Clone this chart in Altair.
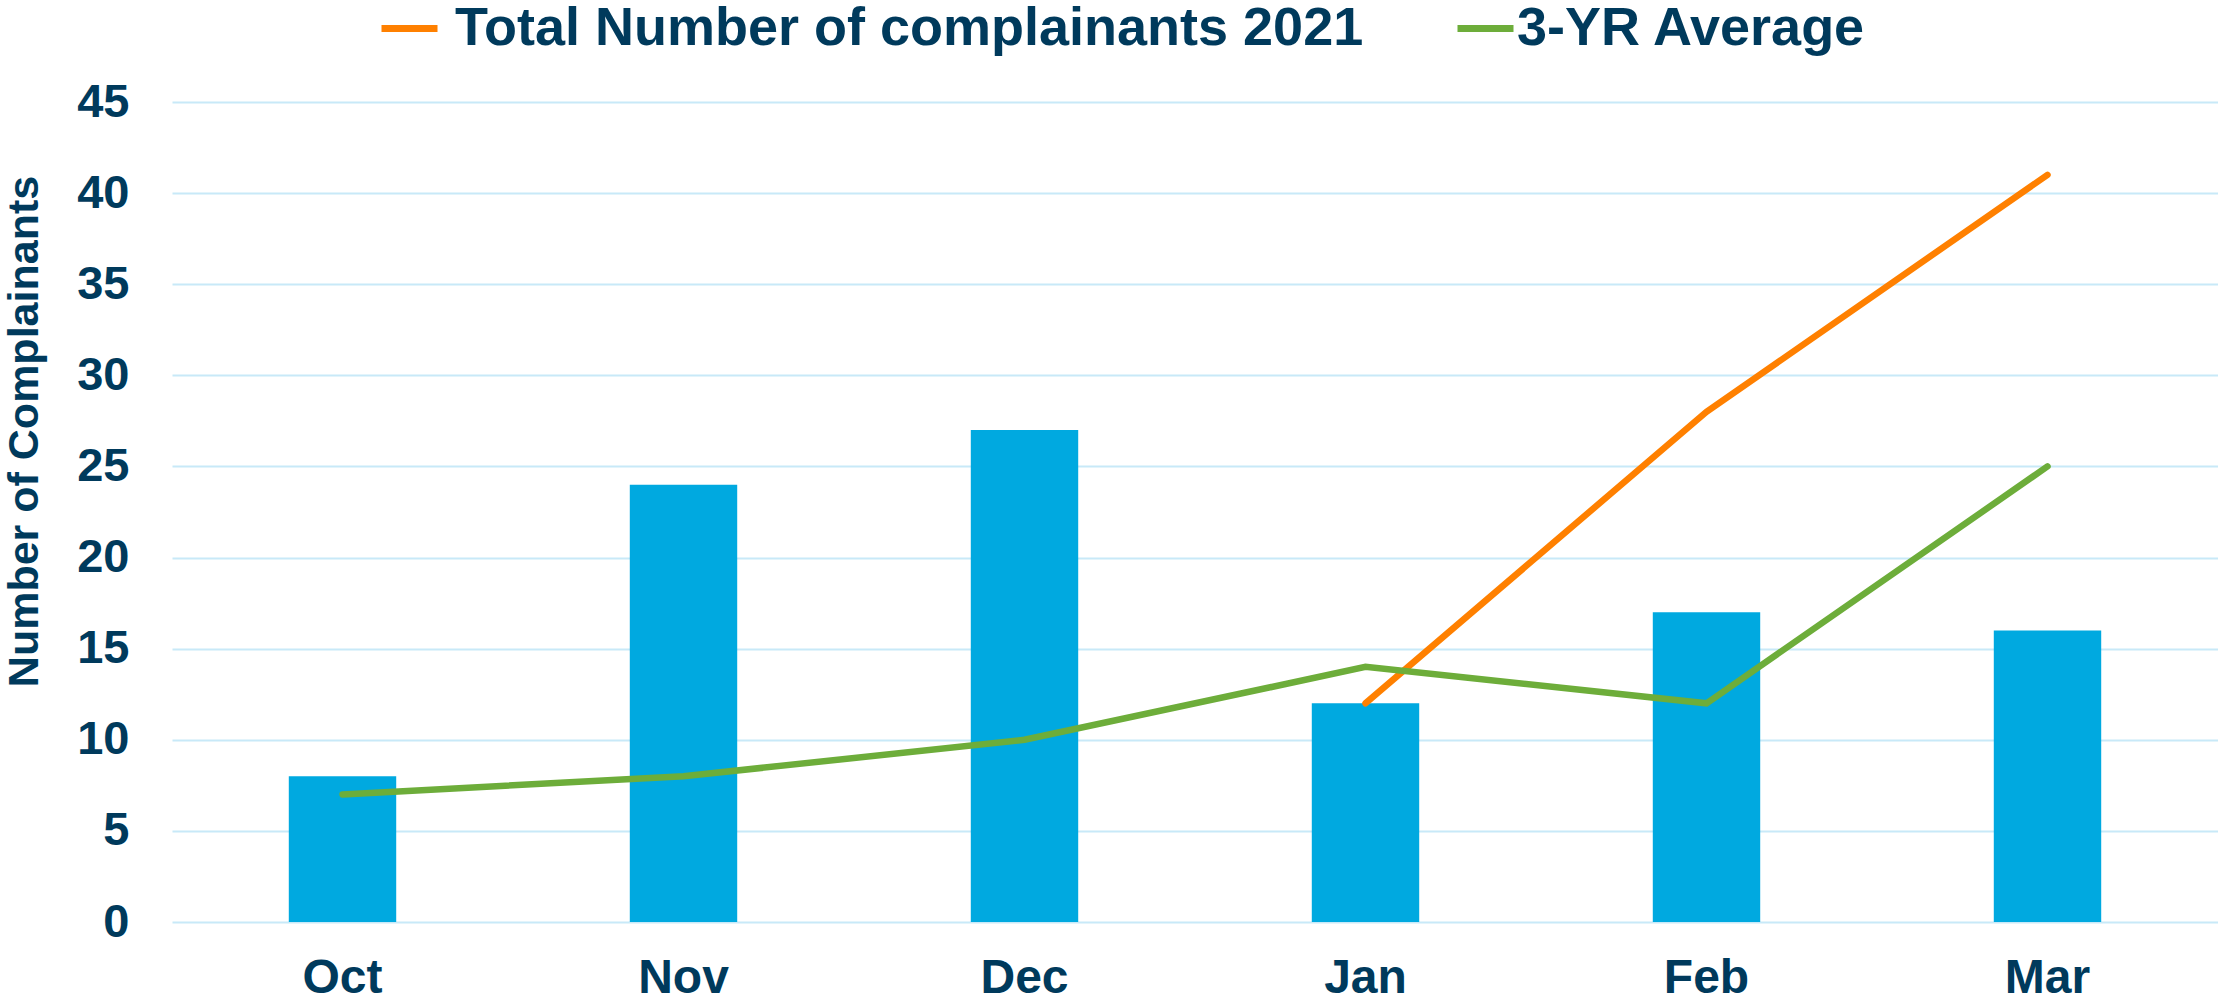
import altair as alt
import pandas as pd

months = ["Oct", "Nov", "Dec", "Jan", "Feb", "Mar"]
bar_values = [8, 24, 27, 12, 17, 16]
total_2021 = [None, None, None, 12, 28, 41]
avg_3yr = [7, 8, 10, 14, 12, 25]

S_TOTAL = "Total Number of complainants 2021"
S_AVG = "3-YR Average"

TEXT = "#003A5C"
FONT = "Liberation Sans"

bars_df = pd.DataFrame({"month": months, "value": bar_values})
tot_df = pd.DataFrame({"month": months, "value": total_2021, "series": S_TOTAL}).dropna()
avg_df = pd.DataFrame({"month": months, "value": avg_3yr, "series": S_AVG})

x_enc = alt.X(
    "month:N",
    sort=months,
    scale=alt.Scale(paddingInner=0.685, paddingOuter=0.3425),
    axis=alt.Axis(
        title=None, domain=False, ticks=False, tickSize=0, grid=False,
        labelFontSize=48, labelFont=FONT, labelFontWeight="bold",
        labelColor=TEXT, labelPadding=32, labelAngle=0,
    ),
)
y_enc = alt.Y(
    "value:Q",
    scale=alt.Scale(domain=[0, 45], nice=False),
    axis=alt.Axis(
        values=list(range(0, 50, 5)), domain=False, ticks=False, tickSize=0,
        gridColor="#C8E9F8", gridWidth=2,
        labelFontSize=47, labelFont=FONT, labelFontWeight="bold",
        labelColor=TEXT, labelPadding=43,
        title="Number of Complainants", titleFontSize=43, titleFont=FONT,
        titleFontWeight="bold", titleColor=TEXT, titlePadding=30, titleY=329,
    ),
)

bars = alt.Chart(bars_df).mark_bar(color="#00A9E0").encode(x=x_enc, y=y_enc)


def legend(x, offset):
    return alt.Legend(
        orient="none", legendX=x, legendY=-105, title=None, padding=0,
        symbolType="stroke", symbolSize=3136, symbolStrokeWidth=7,
        labelFontSize=54, labelFont=FONT, labelFontWeight="bold",
        labelColor=TEXT, labelOffset=offset, labelLimit=2000,
    )


tot_line = alt.Chart(tot_df).mark_line(strokeWidth=6.5, strokeCap="round").encode(
    x=x_enc,
    y=y_enc,
    color=alt.Color("series:N", scale=alt.Scale(domain=[S_TOTAL], range=["#FF8000"]),
                    legend=legend(206, 14)),
)
avg_line = alt.Chart(avg_df).mark_line(strokeWidth=6.5, strokeCap="round").encode(
    x=x_enc,
    y=y_enc,
    stroke=alt.Stroke("series:N", scale=alt.Scale(domain=[S_AVG], range=["#6DAD3A"]),
                      legend=legend(1282, 0)),
)

chart = (
    alt.layer(bars, tot_line, avg_line)
    .resolve_scale(color="independent", stroke="independent")
    .properties(
        width=2046, height=820,
        background="white",
        autosize=alt.AutoSizeParams(type="none"),
        padding={"left": 172, "top": 102, "right": 0, "bottom": 79},
    )
    .configure_view(stroke=None, strokeWidth=0)
)

chart.save("out.html", embed_options={"renderer": "svg", "actions": False})
